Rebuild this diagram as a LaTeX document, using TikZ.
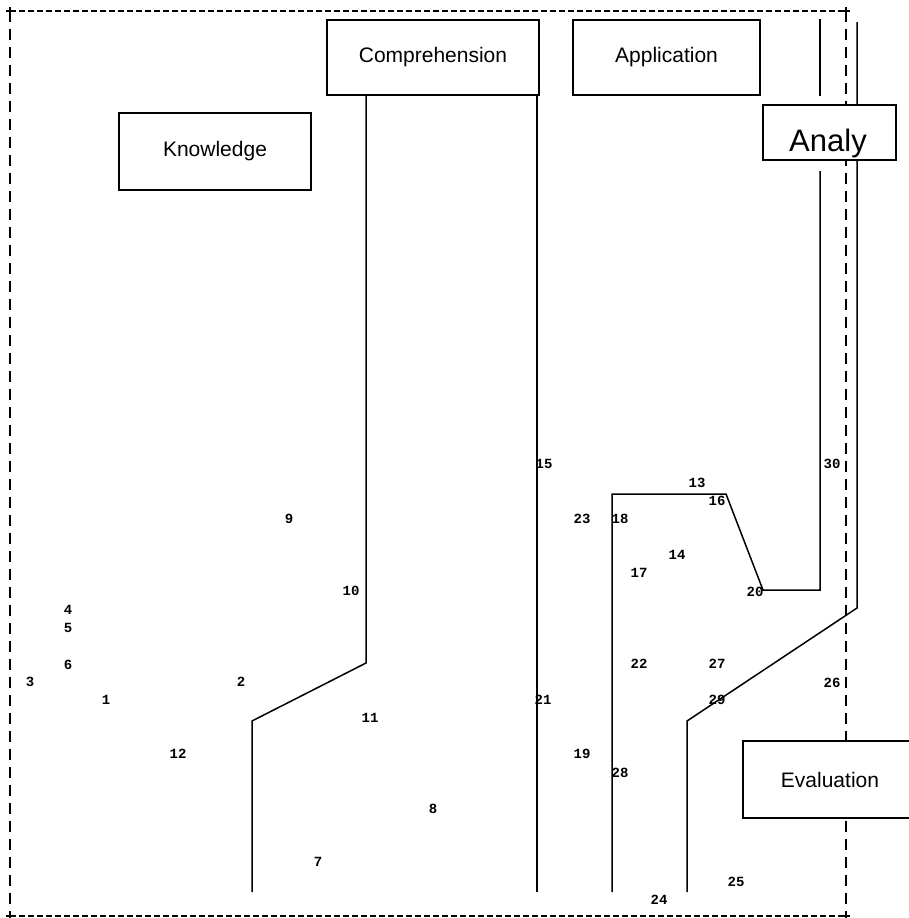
\documentclass[tikz,border=0pt]{standalone}
\usepackage{fontspec}
\setmainfont{Liberation Sans}
\newfontfamily\numfont{Liberation Mono}
\begin{document}
\begin{tikzpicture}[
        x=1pt, y=-1pt,
        box/.style={draw, line width=2.2pt, fill=white, inner sep=0pt, font=\fontsize{21}{25}\selectfont},
        num/.style={inner sep=0pt, font=\numfont\bfseries\fontsize{14}{16}\selectfont},
        wire/.style={draw, line width=1.5pt},
        hdash/.style={draw, line width=1.1pt, dash pattern=on 6pt off 3pt},
        vdash/.style={draw, line width=1.1pt, dash pattern=on 11pt off 7pt},
    ]
    \useasboundingbox (0,0) rectangle (908,918);
    % frame
    \coordinate (tl) at (10,11);
    \coordinate (tr) at (846,11);
    \coordinate (bl) at (10,916);
    \coordinate (br) at (846,916);
    \draw[hdash] (tl) -- (tr);
    \draw[hdash] (bl) -- (br);
    \draw[vdash] (tl) -- (bl);
    \draw[vdash] (tr) -- (br);
    \foreach \c in {tl,tr,bl,br}
        \draw[line width=1.1pt] (\c) +(-4,0) -- +(4,0) +(0,-4) -- +(0,4);
    % lines
    \coordinate (ca) at (366,95);
    \coordinate (cb) at (366,663);
    \coordinate (cc) at (252,721);
    \coordinate (cd) at (252,892);
    \coordinate (ce) at (537,95);
    \coordinate (cf) at (537,892);
    \coordinate (aa) at (612,892);
    \coordinate (ab) at (612,494);
    \coordinate (ac) at (726,494);
    \coordinate (ad) at (763,590);
    \coordinate (ae) at (820,590);
    \coordinate (af) at (820,171);
    \coordinate (ag) at (820,19);
    \coordinate (ah) at (820,96);
    \coordinate (ea) at (857,22);
    \coordinate (eb) at (857,608);
    \coordinate (ec) at (687,721);
    \coordinate (ed) at (687,892);
    \draw[wire] (ca) -- (cb) -- (cc) -- (cd);
    \draw[wire] (ce) -- (cf);
    \draw[wire] (aa) -- (ab) -- (ac) -- (ad) -- (ae) -- (af);
    \draw[wire] (ag) -- (ah);
    \draw[wire] (ea) -- (eb) -- (ec) -- (ed);
    % boxes
    \node[box, minimum width=192pt, minimum height=77pt] (know) at (215,151.5) {Knowledge};
    \node[box, minimum width=212pt, minimum height=75pt] (comp) at (433,57.5) {Comprehension};
    \node[box, minimum width=187pt, minimum height=75pt] (appl) at (666.5,57.5) {Application};
    \node[box, minimum width=133pt, minimum height=55pt] (anal) at (829.5,132.5) {};
    \begin{scope}
        \clip (764,106) rectangle (895,157);
        \node[anchor=base, inner sep=0pt, font=\fontsize{31}{36}\selectfont] (analtext) at (828,151) {Analy};
    \end{scope}
    \node[box, minimum width=174pt, minimum height=77pt] (eval) at (830,779.5) {Evaluation};
    % numbers
    \node[num] (n1) at (106,700) {1};
    \node[num] (n2) at (241,682) {2};
    \node[num] (n3) at (30,682) {3};
    \node[num] (n4) at (68,610) {4};
    \node[num] (n5) at (68,628) {5};
    \node[num] (n6) at (68,665) {6};
    \node[num] (n7) at (318,862) {7};
    \node[num] (n8) at (433,809) {8};
    \node[num] (n9) at (289,519) {9};
    \node[num] (n10) at (351,591) {10};
    \node[num] (n11) at (370,718) {11};
    \node[num] (n12) at (178,754) {12};
    \node[num] (n13) at (697,483) {13};
    \node[num] (n14) at (677,555) {14};
    \node[num] (n15) at (544,464) {15};
    \node[num] (n16) at (717,501) {16};
    \node[num] (n17) at (639,573) {17};
    \node[num] (n18) at (620,519) {18};
    \node[num] (n19) at (582,754) {19};
    \node[num] (n20) at (755,592) {20};
    \node[num] (n21) at (543,700) {21};
    \node[num] (n22) at (639,664) {22};
    \node[num] (n23) at (582,519) {23};
    \node[num] (n24) at (659,900) {24};
    \node[num] (n25) at (736,882) {25};
    \node[num] (n26) at (832,683) {26};
    \node[num] (n27) at (717,664) {27};
    \node[num] (n28) at (620,773) {28};
    \node[num] (n29) at (717,700) {29};
    \node[num] (n30) at (832,464) {30};
\end{tikzpicture}
\end{document}
